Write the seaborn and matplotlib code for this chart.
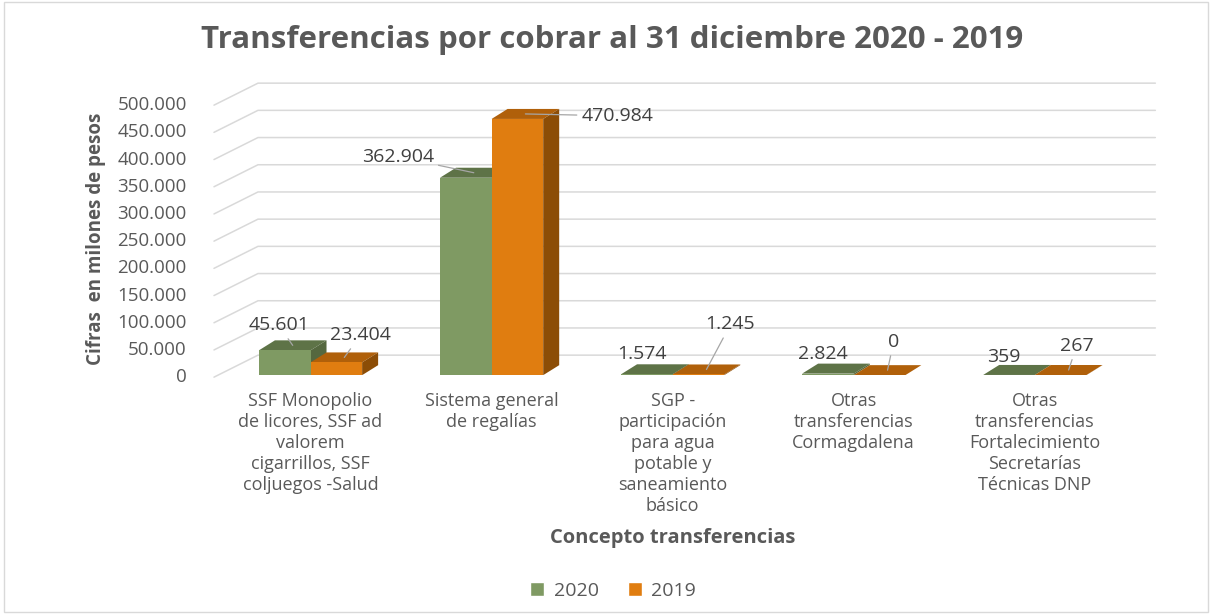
import pandas as pd
import matplotlib
matplotlib.use('Agg')
import matplotlib.pyplot as plt
import seaborn as sns
from matplotlib.patches import Polygon, Rectangle, Patch
from matplotlib.lines import Line2D
from matplotlib.transforms import IdentityTransform

# datos del gráfico (millones de pesos)
conceptos = [
    'SSF Monopolio\nde licores, SSF ad\nvalorem\ncigarrillos, SSF\ncoljuegos -Salud',
    'Sistema general\nde regalías',
    'SGP -\nparticipación\npara agua\npotable y\nsaneamiento\nbásico',
    'Otras\ntransferencias\nCormagdalena',
    'Otras\ntransferencias\nFortalecimiento\nSecretarías\nTécnicas DNP',
]
valores_2020 = [45601, 362904, 1574, 2824, 359]
valores_2019 = [23404, 470984, 1245, 0, 267]
anios = ['2020', '2019']

df = pd.DataFrame({
    'concepto': conceptos * 2,
    'valor': valores_2020 + valores_2019,
    'anio': [anios[0]] * len(conceptos) + [anios[1]] * len(conceptos),
})

# colores: frente, tapa, lado
colores = {'2020': ('#7f9a63', '#5e7347', '#55683f'),
           '2019': ('#e07d10', '#b0600a', '#8c4d06')}
gris = '#595959'

sns.set_theme(style='white')
plt.rcParams['font.family'] = ['Open Sans', 'DejaVu Sans']

fig = plt.figure(figsize=(12.12, 6.14), dpi=100)
ax = fig.add_axes([0.1815, 0.389, 0.747, 0.443])

sns.barplot(data=df, x='concepto', y='valor', hue='anio', hue_order=anios,
            palette={a: colores[a][0] for a in anios}, saturation=1,
            width=0.57, legend=False, ax=ax, order=conceptos,
            edgecolor='none', linewidth=0)

ax.set_ylim(0, 500000)
ax.set_xlim(-0.5, len(conceptos) - 0.5)
ax.set_yticks(range(0, 500001, 50000))
ax.set_yticklabels([f'{v:,}'.replace(',', '.') for v in range(0, 500001, 50000)])
ax.tick_params(axis='y', length=0, pad=24, labelsize=13.5, labelcolor=gris)
ax.tick_params(axis='x', length=0, pad=12, labelsize=13, labelcolor=gris)
for lbl in ax.get_xticklabels():
    lbl.set_linespacing(1.22)
for s in ax.spines.values():
    s.set_visible(False)
ax.patch.set_alpha(0)

ax.set_ylabel('Cifras  en milones de pesos', fontsize=13.5, fontweight='bold', color=gris, labelpad=8)
ax.set_xlabel('Concepto transferencias', fontsize=14.5, fontweight='bold', color=gris, labelpad=9)
fig.suptitle('Transferencias por cobrar al 31 diciembre 2020 - 2019', x=0.505, y=0.96,
             fontsize=22.5, fontweight='bold', color=gris)

# efecto 3D: profundidad en pixeles
dx, dy = 16, 10
T = ax.transData

# cuadrícula en perspectiva
x_izq = T.transform((ax.get_xlim()[0], 0))[0]
x_der = T.transform((ax.get_xlim()[1], 0))[0]
for t in ax.get_yticks():
    y = T.transform((0, t))[1]
    ln = Line2D([x_izq - 6, x_izq + 38, x_der + 30], [y - 2, y + 20, y + 20],
                transform=IdentityTransform(), color='#d9d9d9', lw=1.1, zorder=0)
    fig.add_artist(ln)

for anio, cont in zip(anios, ax.containers):
    _, tapa, lado = colores[anio]
    for p in cont:
        p.set_zorder(3)
        x0, x1 = p.get_x(), p.get_x() + p.get_width()
        X0, Y0 = T.transform((x0, 0))
        X1, Y1 = T.transform((x1, p.get_height()))
        top = Polygon([(X0, Y1), (X1, Y1), (X1 + dx, Y1 + dy), (X0 + dx, Y1 + dy)],
                      closed=True, transform=IdentityTransform(), fc=tapa, ec='none', zorder=2)
        side = Polygon([(X1, Y0), (X1, Y1), (X1 + dx, Y1 + dy), (X1 + dx, Y0 + dy)],
                       closed=True, transform=IdentityTransform(), fc=lado, ec='none', zorder=2)
        ax.add_patch(top)
        ax.add_patch(side)

# etiquetas de datos
offsets = {'2020': [(-14, 20), (-76, 16), (-13, 15), (-13, 15), (-13, 13)],
           '2019': [(16, 22), (92, -2), (24, 45), (6, 28), (8, 24)]}
guia = {'2020': [True, True, False, False, False],
        '2019': [True, True, True, True, True]}
for anio, cont, vals in zip(anios, ax.containers, [valores_2020, valores_2019]):
    for i, (p, v) in enumerate(zip(cont, vals)):
        X0, _ = T.transform((p.get_x(), 0))
        X1, Y1 = T.transform((p.get_x() + p.get_width(), p.get_height()))
        xy = ((X0 + X1) / 2 + dx / 2, Y1 + dy / 2)
        props = dict(arrowstyle='-', color='#a6a6a6', lw=0.9, shrinkA=1, shrinkB=0) if guia[anio][i] else None
        ax.annotate(f'{v:,}'.replace(',', '.'), xy=xy, xycoords='figure pixels',
                    xytext=offsets[anio][i], textcoords='offset pixels',
                    ha='center', va='center', fontsize=14, color='#404040',
                    arrowprops=props, annotation_clip=False, zorder=5)

# leyenda
handles = [Patch(facecolor=colores[a][0], label=a) for a in anios]
fig.legend(handles=handles, loc='center', bbox_to_anchor=(0.506, 0.038), ncol=2,
           frameon=False, fontsize=14, handlelength=0.7, handleheight=0.7,
           handletextpad=0.5, columnspacing=1.5, labelcolor=gris)

# borde del gráfico
fig.patches.append(Rectangle((0.003, 0.003), 0.994, 0.994, transform=fig.transFigure,
                             fill=False, ec='#d9d9d9', lw=1))

fig.savefig('out.png', dpi=100)
